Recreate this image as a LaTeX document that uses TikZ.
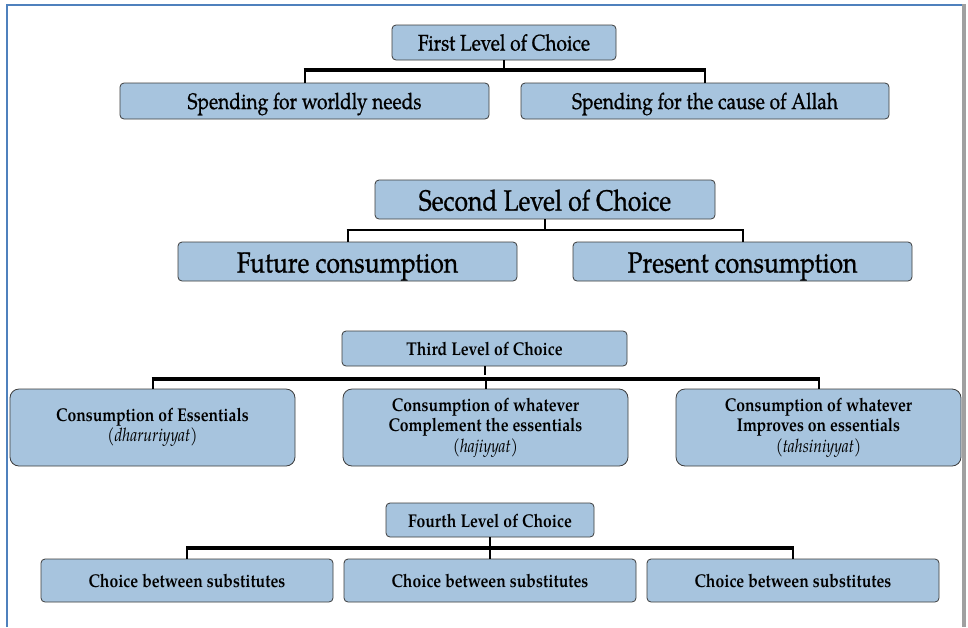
\documentclass[tikz,border=0pt]{standalone}
\usepackage{fontspec}
\setmainfont{TeX Gyre Pagella}[FakeStretch=0.85]
\newfontfamily\semifont{TeX Gyre Pagella}[FakeStretch=0.85, FakeBold=0.8]
\definecolor{boxblue}{RGB}{167,196,222}
\definecolor{boxline}{RGB}{60,60,60}
\definecolor{frameblue}{RGB}{79,129,189}
\definecolor{framegray}{RGB}{160,160,160}
\tikzset{
  box/.style={draw=boxline, fill=boxblue, line width=0.8pt, rounded corners=4pt, inner sep=0pt, align=center},
  bigbox/.style={box, rounded corners=9pt},
  stem/.style={line width=2pt, black},
  bar/.style={line width=4.5pt, black},
  thinbar/.style={line width=2.8pt, black},
  lone/.style={font=\semifont\fontsize{22.5}{26}\selectfont, text height=16pt, text depth=0pt},
  ltwo/.style={font=\semifont\fontsize{29}{33}\selectfont, text height=22pt, text depth=0pt},
  lthree/.style={font=\bfseries\fontsize{18.5}{20.5}\selectfont},
  lfour/.style={lthree, text height=14pt, text depth=0pt},
}
\begin{document}
\begin{tikzpicture}[x=1pt,y=-1pt]
\useasboundingbox (0,0) rectangle (968,627);
\fill[white] (0,0) rectangle (968,627);
% frame
\draw[frameblue, line width=2pt] (6.5,627) -- (6.5,4.5) -- (962,4.5);
\fill[framegray] (962,4) rectangle (965.5,627);

% Level 1
\node[box, lone, minimum width=224pt, minimum height=35pt] (p1) at (504,42.5) {First Level of Choice};
\node[box, lone, minimum width=369pt, minimum height=36pt] (a1) at (304.5,101) {Spending for worldly needs};
\node[box, lone, minimum width=368pt, minimum height=36pt] (a2) at (705,101) {Spending for the cause of Allah};
\coordinate (j1) at (504,70);
\draw[stem] (p1.south) -- (j1);
\draw[bar] ([xshift=-1pt]a1.north |- j1) -- ([xshift=1pt]a2.north |- j1);
\draw[stem] (a1.north |- j1) -- (a1.north);
\draw[stem] (a2.north |- j1) -- (a2.north);

% Level 2
\node[box, ltwo, minimum width=340pt, minimum height=39pt] (p2) at (545,199.5) {Second Level of Choice};
\node[box, ltwo, minimum width=339pt, minimum height=39pt] (b1) at (347.5,261.5) {Future consumption};
\node[box, ltwo, minimum width=339pt, minimum height=39pt] (b2) at (742.5,261.5) {Present consumption};
\coordinate (j2) at (545,230);
\draw[stem] (p2.south) -- (j2);
\draw[thinbar] ([xshift=-1pt]b1.north |- j2) -- ([xshift=1pt]b2.north |- j2);
\draw[stem] (b1.north |- j2) -- (b1.north);
\draw[stem] (b2.north |- j2) -- (b2.north);

% Level 3
\node[box, lfour, minimum width=285pt, minimum height=35pt] (p3) at (484.5,348.5) {Third Level of Choice};
\node[bigbox, lthree, minimum width=285pt, minimum height=77pt] (c1) at (152.5,427.5) {Consumption of Essentials\\{\mdseries\itshape(dharuriyyat)}};
\node[bigbox, lthree, minimum width=285pt, minimum height=77pt] (c2) at (485.5,427.5) {Consumption of whatever\\Complement the essentials\\{\mdseries\itshape(hajiyyat)}};
\node[bigbox, lthree, minimum width=285pt, minimum height=77pt] (c3) at (818.5,427.5) {Consumption of whatever\\Improves on essentials\\{\mdseries\itshape(tahsiniyyat)}};
\coordinate (j3) at (485.5,379);
\draw[stem] (p3.south) -- ([yshift=4pt]p3.south |- j3);
\draw[bar] ([xshift=-1pt]c1.north |- j3) -- ([xshift=1pt]c3.north |- j3);
\draw[stem] (c1.north |- j3) -- (c1.north);
\draw[stem] (c2.north |- j3) -- (c2.north);
\draw[stem] (c3.north |- j3) -- (c3.north);

% Level 4
\node[box, lfour, minimum width=208pt, minimum height=34pt] (p4) at (490,520) {Fourth Level of Choice};
\node[box, lfour, minimum width=292pt, minimum height=43pt] (d1) at (187,580.5) {Choice between substitutes};
\node[box, lfour, minimum width=292pt, minimum height=43pt] (d2) at (490,580.5) {Choice between substitutes};
\node[box, lfour, minimum width=292pt, minimum height=43pt] (d3) at (793,580.5) {Choice between substitutes};
\coordinate (j4) at (490,548);
\draw[stem] (p4.south) -- (j4);
\draw[bar] ([xshift=-1pt]d1.north |- j4) -- ([xshift=1pt]d3.north |- j4);
\draw[stem] (d1.north |- j4) -- (d1.north);
\draw[stem] (d2.north |- j4) -- (d2.north);
\draw[stem] (d3.north |- j4) -- (d3.north);
\end{tikzpicture}
\end{document}
